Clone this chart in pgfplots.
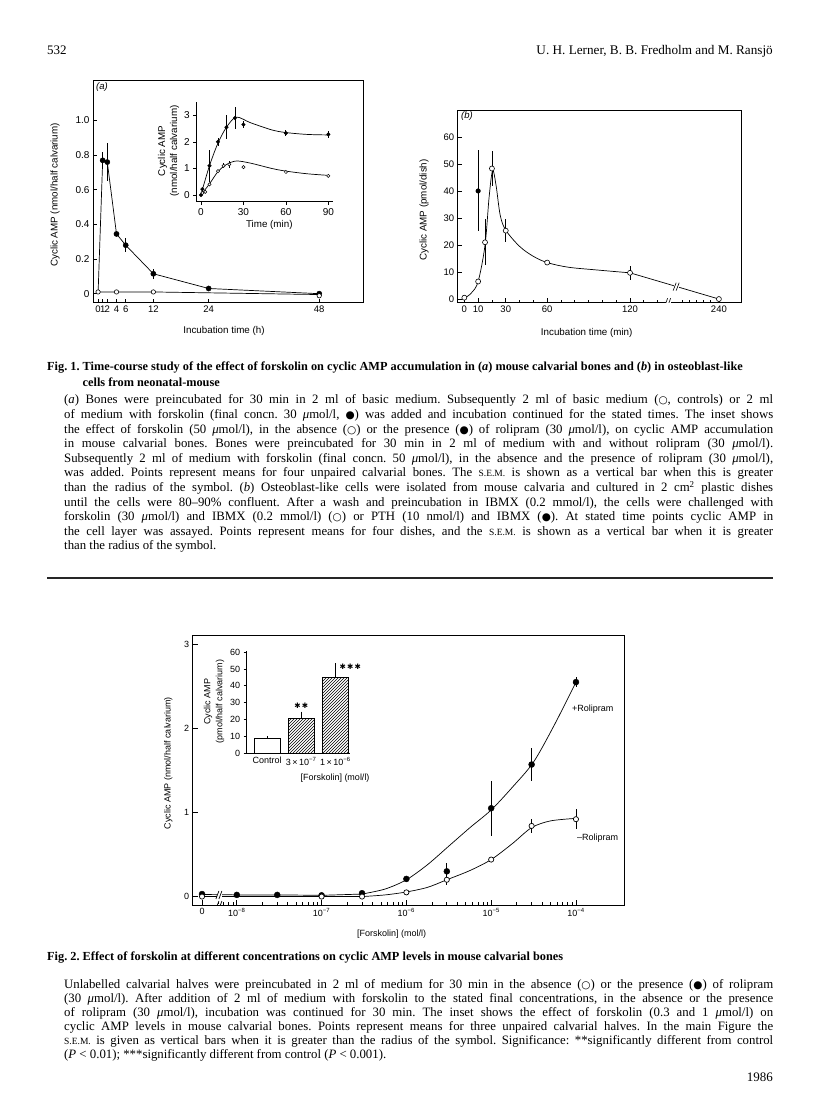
\documentclass[border=0pt]{standalone}
\usepackage{fontspec}
\setmainfont{Liberation Serif}
\newfontfamily\chartfont{Liberation Sans}
\newfontfamily\symfont{DejaVu Sans}
\usepackage{graphicx}
\usepackage{pgfplots}
\pgfplotsset{compat=1.18}
\usetikzlibrary{patterns}

\newsavebox{\linebox}
\newcommand{\jl}[1]{\sbox{\linebox}{#1}\ifdim\wd\linebox>709pt\resizebox{709pt}{\height}{\usebox{\linebox}}\else\makebox[709pt][s]{#1}\fi}
\newcommand{\sem}{{\fontsize{9.5}{9.5}\selectfont S.E.M.}}
\newcommand{\um}{{\itshape μ}mol/l}
\newcommand{\oc}{{\symfont\fontsize{10.5}{10}\selectfont ○}}
\newcommand{\fc}{{\symfont\fontsize{10.5}{10}\selectfont ●}}

\pgfplotsset{
  base/.style={
    scale only axis,
    axis line style={line width=0.8pt},
    tick style={line width=0.7pt, black},
    tick label style={font=\chartfont\fontsize{9}{10}\selectfont},
    tick pos=left,
    /pgf/number format/assume math mode=true,
  },
  ebar/.style={error bars/.cd, y dir=both, y explicit, error mark=none,
    error bar style={line width=0.8pt}},
}

\begin{document}
\frenchspacing
\begin{tikzpicture}
\path[use as bounding box] (0,0) rectangle (816pt,1097pt);
\fill[white] (0,0) rectangle (816pt,1097pt);

% ---------- page header ----------
\node[anchor=base west, inner sep=0] at (47pt,1042pt) {\fontsize{13}{14}\selectfont 532};
\node[anchor=base east, inner sep=0] at (773pt,1042pt) {\fontsize{13.2}{14}\selectfont U. H. Lerner, B. B. Fredholm and M. Ransjö};

% ---------- Fig 1 (a) main ----------
\begin{axis}[base, at={(93pt,1016.3pt)}, anchor=north west,
  width=270pt, height=222pt,
  xmin=-1.1, xmax=57.5, ymin=-0.052, ymax=1.23,
  xtick={0,1,2,4,6,12,24,48}, xticklabels={0,1,2,4,6,12,24,48},
  ytick={0,0.2,0.4,0.6,0.8,1}, yticklabels={0,0.2,0.4,0.6,0.8,1.0},
  tick align=inside, major tick length=4pt,
  tick label style={font=\chartfont\fontsize{10}{10}\selectfont},
  xticklabel style={inner sep=0.3pt, yshift=-3pt, font=\chartfont\fontsize{9.5}{10}\selectfont},
]
\addplot[line width=0.7pt] coordinates {(0,0) (1,0.77) (2,0.76) (4,0.345) (6,0.28) (12,0.115) (24,0.03) (48,0.0)};
\addplot[line width=0.7pt] coordinates {(0,0.01) (4,0.01) (12,0.01) (48,-0.005)};
\addplot[only marks, mark=*, mark size=2.6pt, ebar] coordinates {
  (1,0.77) +- (0,0.05) (2,0.76) +- (0,0.11) (4,0.345) +- (0,0) (6,0.28) +- (0,0.04)
  (12,0.115) +- (0,0.03) (24,0.03) +- (0,0) (48,0.0) +- (0,0)};
\addplot[only marks, mark=*, mark size=2.2pt, mark options={fill=white, line width=0.6pt}] coordinates {
  (0,0.01) (4,0.01) (12,0.01) (48,-0.012)};
\end{axis}
\node[anchor=west, inner sep=0] at (96pt,1010pt) {\chartfont\itshape\fontsize{9.5}{10}\selectfont (a)};
\node[rotate=90] at (55pt,902pt) {\chartfont\fontsize{9.8}{11}\selectfont Cyclic AMP (nmol/half calvarium)};
\node at (224pt,766pt) {\chartfont\fontsize{9.8}{11}\selectfont Incubation time (h)};

% ---------- Fig 1 (a) inset ----------
\begin{axis}[base, at={(196.3pt,995pt)}, anchor=north west,
  width=137pt, height=99.7pt,
  xmin=-3.3, xmax=93.5, ymin=-0.25, ymax=3.5,
  axis lines=left, axis line style={-, line width=0.8pt},
  xtick={0,30,60,90}, xticklabels={0,30,60,90},
  ytick={0,1,2,3}, yticklabels={0,1,2,3},
  tick align=outside, major tick length=3pt,
  tick label style={font=\chartfont\fontsize{10}{10}\selectfont},
]
\addplot[line width=0.7pt, smooth, tension=0.5] coordinates {(0,0.02) (6,1.1) (12,1.95) (18,2.55) (25,2.93) (35,2.72) (50,2.45) (60,2.35) (75,2.28) (90,2.26)};
\addplot[line width=0.7pt, smooth, tension=0.5] coordinates {(0,0) (6,0.42) (12,0.88) (18,1.15) (25,1.28) (35,1.2) (50,1.0) (60,0.9) (75,0.8) (90,0.74)};
\addplot[only marks, mark=*, mark size=1.8pt, ebar] coordinates {
  (0,0.0) +- (0,0) (1,0.22) +- (0,0) (6,1.1) +- (0,0.6) (12,2.0) +- (0,0.15)
  (18,2.55) +- (0,0.45) (24,2.9) +- (0,0.42) (30,2.65) +- (0,0.12)
  (60,2.33) +- (0,0.12) (90,2.28) +- (0,0.12)};
\addplot[only marks, mark=*, mark size=1.6pt, mark options={fill=white, line width=0.5pt}, ebar] coordinates {
  (1,0.08) +- (0,0) (3,0.12) +- (0,0) (6,0.4) +- (0,0) (12,0.9) +- (0,0) (16,1.1) +- (0,0.1)
  (20,1.15) +- (0,0.12) (30,1.05) +- (0,0) (60,0.87) +- (0,0) (90,0.72) +- (0,0)};
\end{axis}
\node[rotate=90, align=center] at (168.5pt,946pt) {\chartfont\fontsize{9.8}{11}\selectfont Cyclic AMP\\\chartfont\fontsize{9.8}{11}\selectfont (nmol/half calvarium)};
\node at (269.3pt,872pt) {\chartfont\fontsize{9.8}{11}\selectfont Time (min)};

% ---------- Fig 1 (b) ----------
\begin{axis}[base, at={(457.7pt,986.3pt)}, anchor=north west,
  width=283.3pt, height=191.6pt,
  xmin=-4.8, xmax=200.4, ymin=-1.2, ymax=69.7,
  xtick={0,10,30,60,120,184.4}, xticklabels={0,10,30,60,120,240},
  minor xtick={20,40,50,70,80,90,100,110,130,140,158,163,168,173,178},
  ytick={0,10,20,30,40,50,60}, yticklabels={0,10,20,30,40,50,60},
  tick align=inside, major tick length=4pt, minor tick length=2.5pt,
  tick label style={font=\chartfont\fontsize{9.5}{10}\selectfont},
]
\addplot[line width=0.7pt, smooth, tension=0.55] coordinates {(0,0.3) (5,2.2) (10,6.5) (15,20) (18,38) (20.5,47.5) (23,42) (26,31) (30,25.5) (40,19.5) (50,15.8) (60,13.5) (75,11.8) (95,10.8) (120,9.7)};
\addplot[line width=0.7pt] coordinates {(120,9.7) (184.4,0)};
\addplot[only marks, mark=*, mark size=2.3pt, ebar] coordinates {(10,40) +- (0,15)};
\addplot[only marks, mark=*, mark size=2.5pt, mark options={fill=white, line width=0.6pt}, ebar] coordinates {
  (0,0.5) +- (0,0) (10,6.5) +- (0,0) (15,21) +- (0,8.5) (20,48.3) +- (0,6.5)
  (30,25.3) +- (0,4.3) (60,13.5) +- (0,0) (120,9.7) +- (0,2.6) (184.4,0) +- (0,0)};
% axis breaks
\fill[white] ([xshift=-2.5pt,yshift=-3pt]axis cs:153.8,4.6) rectangle ([xshift=2.5pt,yshift=3pt]axis cs:153.8,4.6);
\draw[line width=0.6pt] ([xshift=-3.5pt,yshift=-4pt]axis cs:153.8,4.6) -- ++(3pt,8pt);
\draw[line width=0.6pt] ([xshift=-0.5pt,yshift=-4pt]axis cs:153.8,4.6) -- ++(3pt,8pt);
\fill[white] ([xshift=-2.5pt,yshift=-1pt]axis cs:147.6,-1.2) rectangle ([xshift=2.5pt,yshift=1pt]axis cs:147.6,-1.2);
\draw[line width=0.6pt] ([xshift=-3.5pt,yshift=-4pt]axis cs:147.6,-1.2) -- ++(3pt,8pt);
\draw[line width=0.6pt] ([xshift=-0.5pt,yshift=-4pt]axis cs:147.6,-1.2) -- ++(3pt,8pt);
\end{axis}
\node[anchor=west, inner sep=0] at (461pt,981pt) {\chartfont\itshape\fontsize{9.5}{10}\selectfont (b)};
\node[rotate=90] at (424pt,887pt) {\chartfont\fontsize{9.8}{11}\selectfont Cyclic AMP (pmol/dish)};
\node at (586.7pt,764.3pt) {\chartfont\fontsize{9.8}{11}\selectfont Incubation time (min)};

% ---------- Fig 1 caption and legend text ----------
\node[anchor=base west, inner sep=0] at (47pt,726pt) {\fontsize{12.3}{16}\selectfont\bfseries Fig. 1.\ \parbox[t]{700pt}{\raggedright\bfseries Time-course study of the effect of forskolin on cyclic AMP accumulation in (\textit{a}) mouse calvarial bones and (\textit{b}) in osteoblast-like\\cells from neonatal-mouse}};

\node[anchor=base west, inner sep=0] at (64pt,693pt) {\parbox[t]{709pt}{\fontsize{12.8}{14.6}\selectfont
\jl{(\textit{a}) Bones were preincubated for 30 min in 2 ml of basic medium. Subsequently 2 ml of basic medium (\oc, controls) or 2 ml}\\
\jl{of medium with forskolin (final concn. 30 \um, \fc) was added and incubation continued for the stated times. The inset shows}\\
\jl{the effect of forskolin (50 \um), in the absence (\oc) or the presence (\fc) of rolipram (30 \um), on cyclic AMP accumulation}\\
\jl{in mouse calvarial bones. Bones were preincubated for 30 min in 2 ml of medium with and without rolipram (30 \um).}\\
\jl{Subsequently 2 ml of medium with forskolin (final concn. 50 \um), in the absence and the presence of rolipram (30 \um),}\\
\jl{was added. Points represent means for four unpaired calvarial bones. The \sem\ is shown as a vertical bar when this is greater}\\
\jl{than the radius of the symbol. (\textit{b}) Osteoblast-like cells were isolated from mouse calvaria and cultured in 2 cm\textsuperscript{2} plastic dishes}\\
\jl{until the cells were 80--90\% confluent. After a wash and preincubation in IBMX (0.2 mmol/l), the cells were challenged with}\\
\jl{forskolin (30 \um) and IBMX (0.2 mmol/l) (\oc) or PTH (10 nmol/l) and IBMX (\fc). At stated time points cyclic AMP in}\\
\jl{the cell layer was assayed. Points represent means for four dishes, and the \sem\ is shown as a vertical bar when it is greater}\\
than the radius of the symbol.}};

\draw[line width=1.3pt, black!85] (47pt,519pt) -- (773pt,519pt);

% ---------- Fig 2 main ----------
\begin{axis}[base, at={(192.7pt,462pt)}, anchor=north west,
  width=431.6pt, height=270pt,
  xmin=-0.52, xmax=4.57, ymin=-0.1, ymax=3.11,
  xtick={-0.41,0,1,2,3,4},
  xticklabels={0,10\textsuperscript{−8},10\textsuperscript{−7},10\textsuperscript{−6},10\textsuperscript{−5},10\textsuperscript{−4}},
  minor xtick={-0.222,-0.155,-0.097,-0.046,
    0.301,0.477,0.602,0.699,0.778,0.845,0.903,0.954,
    1.301,1.477,1.602,1.699,1.778,1.845,1.903,1.954,
    2.301,2.477,2.602,2.699,2.778,2.845,2.903,2.954,
    3.301,3.477,3.602,3.699,3.778,3.845,3.903,3.954},
  ytick={0,1,2,3}, yticklabels={0,1,2,3},
  tick align=inside, major tick length=5pt, minor tick length=3pt,
  tick label style={font=\chartfont\fontsize{9}{10}\selectfont},
]
\addplot[line width=0.7pt] coordinates {(-0.41,0.025) (0,0.02) (0.477,0.02) (1,0.015) (1.477,0.03)};
\addplot[line width=0.7pt, smooth, tension=0.5] coordinates {(1.477,0.03) (1.75,0.09) (2,0.2) (2.25,0.38) (2.5,0.6) (2.75,0.82) (3,1.03) (3.25,1.3) (3.5,1.6) (3.75,2.05) (4,2.55)};
\addplot[line width=0.7pt] coordinates {(-0.41,0.0) (0,0.0) (1,0.0) (1.477,0.0)};
\addplot[line width=0.7pt, smooth, tension=0.5] coordinates {(1.477,0.0) (1.75,0.02) (2,0.055) (2.25,0.11) (2.477,0.2) (2.75,0.31) (3,0.44) (3.25,0.63) (3.477,0.82) (3.7,0.9) (4,0.93)};
\addplot[only marks, mark=*, mark size=3pt, ebar] coordinates {
  (-0.41,0.03) +- (0,0) (0,0.02) +- (0,0) (0.477,0.02) +- (0,0) (1,0.015) +- (0,0)
  (1.477,0.04) +- (0,0) (2,0.21) +- (0,0) (2.477,0.30) +- (0,0.1)
  (3,1.05) +- (0,0.33) (3.477,1.57) +- (0,0.2) (4,2.55) +- (0,0.06)};
\addplot[only marks, mark=*, mark size=2.6pt, mark options={fill=white, line width=0.7pt}, ebar] coordinates {
  (-0.41,0.0) +- (0,0) (1,0.0) +- (0,0) (1.477,0.0) +- (0,0) (2,0.05) +- (0,0)
  (2.477,0.2) +- (0,0.06) (3,0.44) +- (0,0) (3.477,0.84) +- (0,0.08) (4,0.92) +- (0,0.12)};
% axis breaks
\fill[white] ([xshift=-2.5pt,yshift=-3pt]axis cs:-0.205,0.02) rectangle ([xshift=2.5pt,yshift=3pt]axis cs:-0.205,0.02);
\draw[line width=0.7pt] ([xshift=-3.5pt,yshift=-4pt]axis cs:-0.205,0.02) -- ++(3pt,8pt);
\draw[line width=0.7pt] ([xshift=-0.5pt,yshift=-4pt]axis cs:-0.205,0.02) -- ++(3pt,8pt);
\fill[white] ([xshift=-2.5pt,yshift=-1pt]axis cs:-0.205,-0.1) rectangle ([xshift=2.5pt,yshift=1pt]axis cs:-0.205,-0.1);
\draw[line width=0.7pt] ([xshift=-3.5pt,yshift=-4pt]axis cs:-0.205,-0.1) -- ++(3pt,8pt);
\draw[line width=0.7pt] ([xshift=-0.5pt,yshift=-4pt]axis cs:-0.205,-0.1) -- ++(3pt,8pt);
\end{axis}
\node[rotate=90] at (168.3pt,334pt) {\chartfont\fontsize{9}{11}\selectfont Cyclic AMP (nmol/half calvarium)};
\node at (391.7pt,163pt) {\chartfont\fontsize{9}{11}\selectfont [Forskolin] (mol/l)};
\node[anchor=west, inner sep=0] at (572pt,387.7pt) {\chartfont\fontsize{9}{10}\selectfont +Rolipram};
\node[anchor=west, inner sep=0] at (577pt,259.3pt) {\chartfont\fontsize{9}{10}\selectfont –Rolipram};

% ---------- Fig 2 inset ----------
\begin{axis}[base, at={(246.7pt,344pt)}, anchor=south west,
  width=103.3pt, height=102.4pt, clip=false,
  xmin=-0.6, xmax=2.43, ymin=0, ymax=61,
  axis lines=left, axis line style={-, line width=0.8pt},
  xtick={0,1,2}, xticklabels={Control,3\,×\,10\textsuperscript{−7},1\,×\,10\textsuperscript{−6}},
  xtick style={draw=none},
  ytick={0,10,20,30,40,50,60}, yticklabels={0,10,20,30,40,50,60},
  tick align=outside, major tick length=3pt,
  tick label style={font=\chartfont\fontsize{9}{10}\selectfont},
  xticklabel style={inner sep=1pt},
]
\addplot[ybar, bar width=26pt, bar shift=0pt, fill=white, draw=black, line width=0.8pt,
  error bars/.cd, y dir=plus, y explicit, error mark=none, error bar style={line width=0.8pt}]
  coordinates {(0,8.8) +- (0,1.3)};
\addplot[ybar, bar width=26pt, bar shift=0pt, pattern=north east lines, draw=black, line width=0.8pt,
  error bars/.cd, y dir=plus, y explicit, error mark=none, error bar style={line width=0.8pt}]
  coordinates {(1,20.7) +- (0,3.9) (2,45.1) +- (0,8.4)};
\node at (axis cs:1,28.2) {\symfont\fontsize{7.5}{7}\selectfont ✱\,✱};
\node at (axis cs:2.44,51.2) {\symfont\fontsize{7.5}{7}\selectfont ✱\,✱\,✱};
\end{axis}
\node[rotate=90, align=center] at (214pt,395.3pt) {\chartfont\fontsize{9}{11}\selectfont Cyclic AMP\\\chartfont\fontsize{9}{11}\selectfont (pmol/half calvarium)};
\node at (335pt,319.3pt) {\chartfont\fontsize{9}{10}\selectfont [Forskolin] (mol/l)};

% ---------- Fig 2 caption and legend text ----------
\node[anchor=base west, inner sep=0] at (47pt,136pt) {\fontsize{12.3}{16}\selectfont\bfseries Fig. 2. Effect of forskolin at different concentrations on cyclic AMP levels in mouse calvarial bones};

\node[anchor=base west, inner sep=0] at (64pt,108pt) {\parbox[t]{709pt}{\fontsize{12.8}{14}\selectfont
\jl{Unlabelled calvarial halves were preincubated in 2 ml of medium for 30 min in the absence (\oc) or the presence (\fc) of rolipram}\\
\jl{(30 \um). After addition of 2 ml of medium with forskolin to the stated final concentrations, in the absence or the presence}\\
\jl{of rolipram (30 \um), incubation was continued for 30 min. The inset shows the effect of forskolin (0.3 and 1 \um) on}\\
\jl{cyclic AMP levels in mouse calvarial bones. Points represent means for three unpaired calvarial halves. In the main Figure the}\\
\jl{\sem\ is given as vertical bars when it is greater than the radius of the symbol. Significance: **significantly different from control}\\
(\textit{P} < 0.01); ***significantly different from control (\textit{P} < 0.001).}};

\node[anchor=base east, inner sep=0] at (773pt,15pt) {\fontsize{13}{14}\selectfont 1986};
\end{tikzpicture}
\end{document}
